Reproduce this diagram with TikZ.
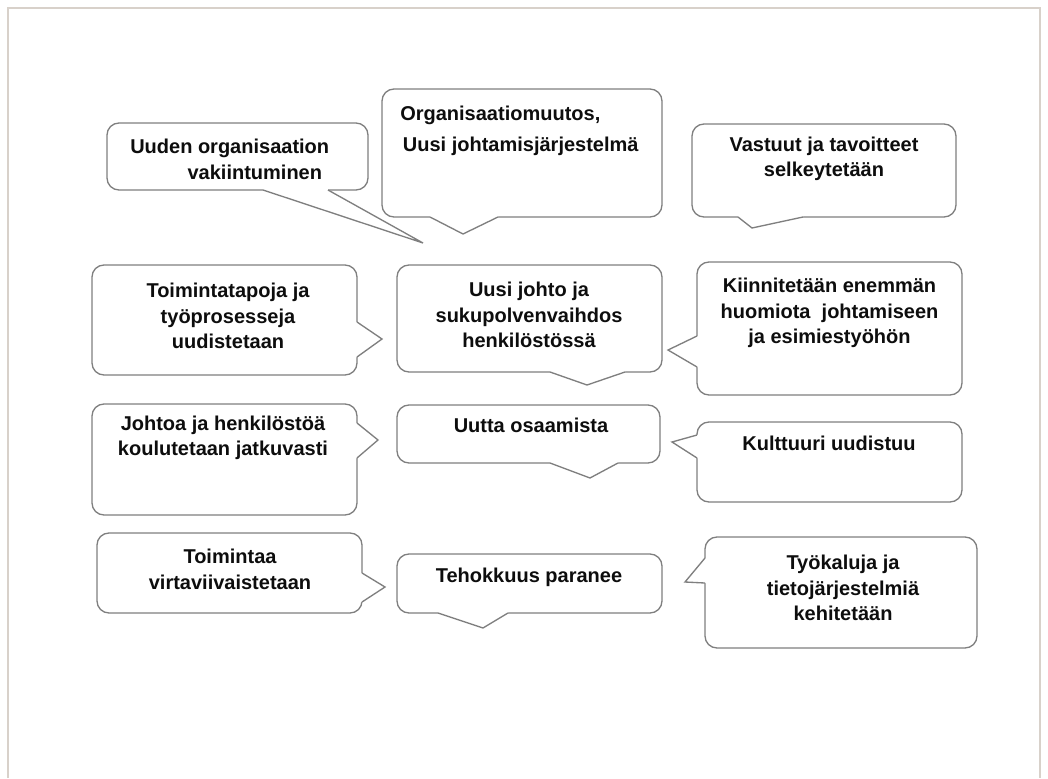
\documentclass[tikz,border=0pt]{standalone}
\usepackage{fontspec}
\setmainfont{Liberation Sans}
\usetikzlibrary{calc}
\definecolor{linegray}{HTML}{7F7F7F}
\definecolor{framegray}{HTML}{D8D1CA}
\definecolor{textblack}{HTML}{0D0D0D}
\tikzset{
  bubble/.style={draw=linegray, line width=1pt, fill=white, rounded corners=9pt},
  tailline/.style={draw=linegray, line width=1pt, line join=miter},
  txt/.style={font=\bfseries\fontsize{15}{19}\selectfont, align=center, inner sep=0pt, text=textblack},
  frame/.style={draw=framegray, line width=1.2pt}
}
\newcommand\mybubble[6]{%
  \draw[bubble] (#1) rectangle (#2);
  \fill[white] (#3) -- (#4) -- (#5) -- ($(#5)+(#6)$) -- ($(#3)+(#6)$) -- cycle;
  \draw[tailline] (#3) -- (#4) -- (#5);
}
\begin{document}
\begin{tikzpicture}[x=0.75pt,y=-0.75pt]
\useasboundingbox (0,0) rectangle (1048,778);
\draw[frame] (8,778) -- (8,8) -- (1040,8) -- (1040,778);

% bubbles
\mybubble{107,123}{368,190}{263,190}{423,243}{328,190}{0,-2}
\mybubble{382,89}{662,217}{430,217}{463,234}{498,217}{0,-2}
\mybubble{692,124}{956,217}{738,217}{752,228}{803,217}{0,-2}
\mybubble{92,265}{357,375}{357,322}{382,339}{357,357}{-2,0}
\mybubble{397,265}{662,372}{550,372}{587,385}{625,372}{0,-2}
\mybubble{697,262}{962,395}{697,336}{668,350}{697,367}{2,0}
\mybubble{92,404}{357,515}{357,423}{378,440}{357,458}{-2,0}
\mybubble{397,405}{660,463}{550,463}{590,478}{618,463}{0,-2}
\mybubble{697,422}{962,502}{697,435}{672,442}{697,458}{2,0}
\mybubble{97,533}{362,613}{362,573}{385,587}{362,602}{-2,0}
\mybubble{397,554}{662,613}{438,613}{483,628}{508,613}{0,-2}
\mybubble{705,537}{977,648}{705,558}{685,582}{705,583}{2,0}

% texts
\node[txt, align=left, anchor=west] (t1) at (130,159.5) {Uuden organisaation\\\hspace*{43pt}vakiintuminen};
\node[txt, align=left, anchor=west] (t2) at (400,131) {Organisaatiomuutos,\\[4pt]\hspace*{2pt}Uusi johtamisjärjestelmä};
\node[txt] (t3) at (824,158.5) {Vastuut ja tavoitteet\\selkeytetään};
\node[txt] (t4) at (228,316) {Toimintatapoja ja\\työprosesseja\\uudistetaan};
\node[txt] (t5) at (529,315) {Uusi johto ja\\sukupolvenvaihdos\\henkilöstössä};
\node[txt] (t6) at (829.5,313) {Kiinnitetään enemmän\\huomiota\ \ johtamiseen\\ja esimiestyöhön};
\node[txt] (t7) at (223,437.5) {Johtoa ja henkilöstöä\\koulutetaan jatkuvasti};
\node[txt] (t8) at (531,425) {Uutta osaamista};
\node[txt] (t9) at (829,443) {Kulttuuri uudistuu};
\node[txt] (t10) at (230,569.5) {Toimintaa\\virtaviivaistetaan};
\node[txt] (t11) at (529,577) {Tehokkuus paranee};
\node[txt] (t12) at (843,588) {Työkaluja ja\\tietojärjestelmiä\\kehitetään};
\end{tikzpicture}
\end{document}
